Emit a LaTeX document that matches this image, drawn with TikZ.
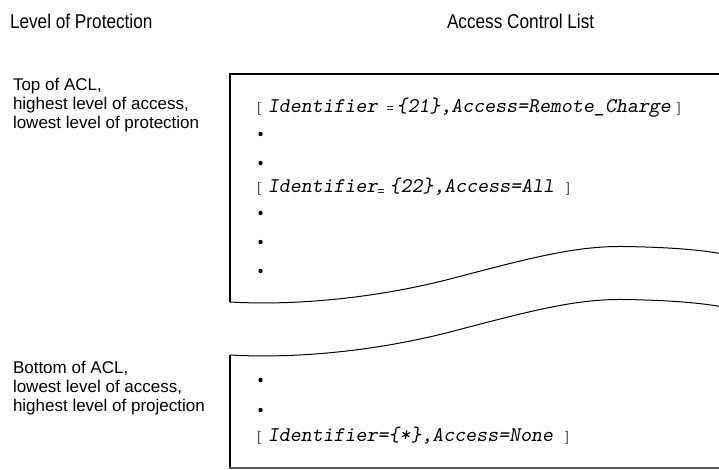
\documentclass[tikz,border=0pt]{standalone}
\usepackage{fontspec}
\setmainfont{Liberation Sans}
\newfontfamily\titlefont[FakeStretch=0.86]{Liberation Sans}
\newfontfamily\codefont{lmmonoslant10-regular.otf}
\begin{document}
\begin{tikzpicture}[x=1pt,y=-1pt,
  every node/.style={inner sep=0pt,outer sep=0pt,anchor=base west},
  titletext/.style={font=\titlefont\fontsize{20}{24}\selectfont},
  sidetext/.style={font=\fontsize{17}{19}\selectfont},
  codetext/.style={font=\codefont\fontsize{20.9}{24}\selectfont},
  edgethick/.style={line width=2.6pt},
  edgetop/.style={line width=2pt},
  wave/.style={line width=1pt},
  edgebottom/.style={line width=1.2pt,draw=black!65},
  dot/.style={circle,fill=black,minimum size=4.4pt,inner sep=0pt,anchor=center}]
\useasboundingbox (0,0) rectangle (719,470);
\newcommand{\br}[1]{{\normalfont\upshape\fontsize{14}{16}\selectfont\color{black!70}#1}}
\newcommand{\smeq}{{\normalfont\upshape\fontsize{12}{14}\selectfont =}}

% titles
\node[titletext] (lp) at (10,29) {Level of Protection};
\node[titletext] (acl) at (447,29) {Access Control List};

% side labels
\node[sidetext] (t1) at (13,91) {Top of ACL,};
\node[sidetext] (t2) at (13,110) {highest level of access,};
\node[sidetext] (t3) at (13,129) {lowest level of protection};
\node[sidetext] (b1) at (13,373) {Bottom of ACL,};
\node[sidetext] (b2) at (13,392) {lowest level of access,};
\node[sidetext] (b3) at (13,411) {highest level of projection};

% upper box
\draw[edgethick] (230,302) -- (230,73);
\draw[edgetop] (229,74) -- (720,74);
\draw[wave] (230,302) .. controls (300,306) and (380,297) .. (450,279)
  .. controls (530,258) and (575,246) .. (623,246.5)
  .. controls (660,247) and (695,249) .. (720,253.5);

% lower box
\begin{scope}[shift={(0,53)}]
\draw[wave] (230,302) .. controls (300,306) and (380,297) .. (450,279)
  .. controls (530,258) and (575,246) .. (623,246.5)
  .. controls (660,247) and (695,249) .. (720,253.5);
\end{scope}
\draw[edgethick,line width=2.2pt] (230,354.5) -- (230,468);
\draw[edgebottom] (229,468) -- (720,468);

% entries
\node[codetext] (e1) at (257,113) {\br{[}\hspace{7pt}Identifier\hspace{9pt}\smeq\hspace{3pt}\{21\},Access=Remote\_Charge\hspace{6pt}\br{]}};
\node[dot] (d1) at (260.5,134) {};
\node[dot] (d2) at (260.5,163) {};
\node[codetext] (e2) at (257,193) {\br{[}\hspace{7pt}Identifier\raisebox{-3pt}{\smeq}\hspace{5pt}\{22\},Access=All\hspace{12pt}\br{]}};
\node[dot] (d3) at (260.5,213) {};
\node[dot] (d4) at (260.5,242) {};
\node[dot] (d5) at (260.5,271) {};
\node[dot] (d6) at (260.5,380) {};
\node[dot] (d7) at (260.5,410) {};
\node[codetext] (e3) at (257,441) {\br{[}\hspace{7pt}Identifier=\{*\},Access=None\hspace{12pt}\br{]}};
\end{tikzpicture}
\end{document}
